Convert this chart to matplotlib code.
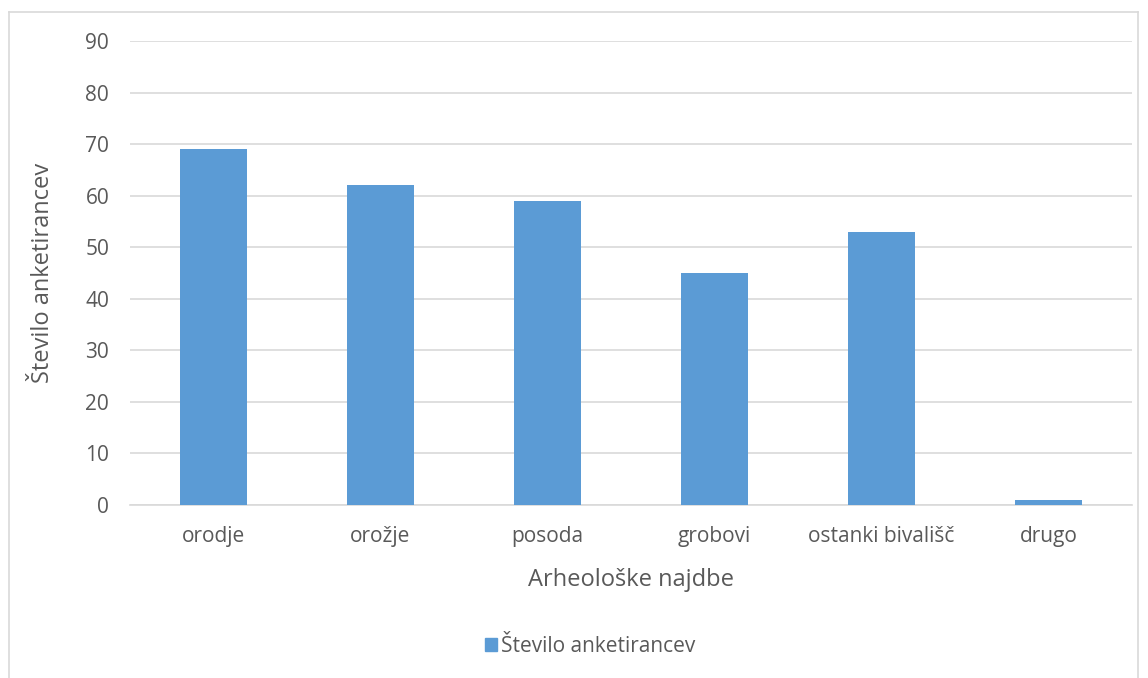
import matplotlib.pyplot as plt
from matplotlib.patches import Patch
from matplotlib.lines import Line2D

categories = ["orodje", "orožje", "posoda", "grobovi", "ostanki bivališč", "drugo"]
values = [69, 62, 59, 45, 53, 1]
yticks = [0, 10, 20, 30, 40, 50, 60, 70, 80, 90]

bar_color = "#5B9BD5"
grid_color = "#D9D9D9"
text_color = "#595959"

plt.rcParams['font.family'] = ['Open Sans', 'DejaVu Sans']

fig = plt.figure(figsize=(11.48, 6.78), dpi=100)
ax = fig.add_axes([130/1148, 1 - 505/678, 1002/1148, (505 - 41)/678])

x = range(len(categories))
ax.bar(x, values, width=0.4, color=bar_color, zorder=3)

ax.set_xlim(-0.5, len(categories) - 0.5)
ax.set_ylim(0, 90)
ax.set_yticks(yticks)
ax.set_xticks(list(x))
ax.set_xticklabels(categories)
ax.grid(axis='y', color=grid_color, linewidth=1.2, zorder=0)
ax.tick_params(length=0, labelsize=15, colors=text_color)
ax.tick_params(axis='y', pad=15)
ax.tick_params(axis='x', pad=15)
for s in ['top', 'right', 'left']:
    ax.spines[s].set_visible(False)
ax.spines['bottom'].set_color(grid_color)
ax.spines['bottom'].set_linewidth(1.2)

ax.set_xlabel("Arheološke najdbe", fontsize=17, color=text_color, labelpad=15)
ax.set_ylabel("Število anketirancev", fontsize=17, color=text_color, labelpad=22)

# chart border (Excel-style frame)
fig.add_artist(Line2D([9/1148, 9/1148], [0, 1 - 12/678], transform=fig.transFigure, color=grid_color, lw=1.2))
fig.add_artist(Line2D([9/1148, 1138/1148], [1 - 12/678, 1 - 12/678], transform=fig.transFigure, color=grid_color, lw=1.2))
fig.add_artist(Line2D([1138/1148, 1138/1148], [0, 1 - 12/678], transform=fig.transFigure, color=grid_color, lw=1.2))

handles = [Patch(color=bar_color, label="Število anketirancev")]
fig.legend(handles=handles, loc='center', bbox_to_anchor=(590/1148, 1 - 646/678), frameon=False,
           fontsize=15, labelcolor=text_color, handlelength=0.6, handleheight=0.6, handletextpad=0.2)

fig.savefig("out.png", dpi=100)
